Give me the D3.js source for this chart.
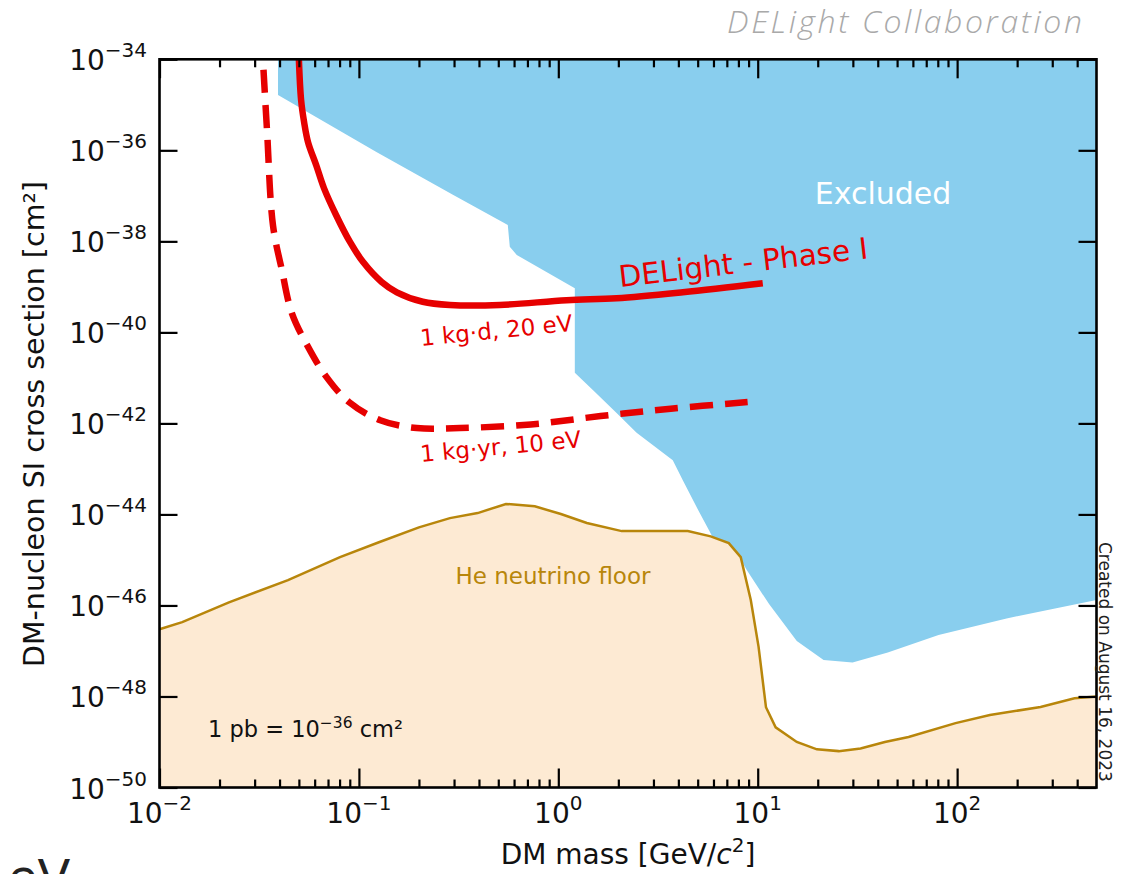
<!DOCTYPE html>
<html>
<head>
<meta charset="utf-8">
<script src="https://cdn.jsdelivr.net/npm/d3@7"></script>
<style>
  body { margin: 0; background: #fff; }
  svg { display: block; font-family: "DejaVu Sans", sans-serif; }
</style>
</head>
<body>
<div id="chart"></div>
<script>
// values (mass in GeV/c^2, cross section in cm^2)
var excludedMass  = [0.0393, 0.0393, 0.123, 0.296, 0.527, 0.558, 0.571, 0.619, 1.21, 1.21, 1.49, 1.96, 2.47, 3.75, 4.21, 5.12, 5.94, 7.85, 8.81, 11.4, 15.7, 21.4, 29.9, 44.9, 80.7, 177, 500];
var excludedSigma = [1e-34, 1.64e-35, 9.1e-37, 1.05e-37, 2.63e-38, 2.29e-38, 7.6e-39, 5.0e-39, 9.3e-40, 1.29e-41, 5.4e-42, 1.7e-42, 6.2e-43, 1.55e-43, 5.6e-44, 1.07e-44, 3.2e-45, 1.48e-45, 6.0e-46, 1.07e-46, 1.66e-47, 6.3e-48, 5.6e-48, 9.3e-48, 2.24e-47, 5.2e-47, 1.32e-46];

var phase1Mass  = [0.0500, 0.0513, 0.0531, 0.0556, 0.0610, 0.0668, 0.0768, 0.0902, 0.105, 0.130, 0.155, 0.209, 0.286, 0.509, 1.10, 1.96, 4.21, 10.6];
var phase1Sigma = [1e-34, 1.28e-35, 4.2e-36, 1.5e-36, 4.8e-37, 1.48e-37, 3.8e-38, 9.7e-39, 3.5e-39, 1.28e-39, 7.6e-40, 4.7e-40, 4.0e-40, 4.0e-40, 5.1e-40, 5.6e-40, 7.6e-40, 1.2e-39];

var yearMass  = [0.0330, 0.0346, 0.0371, 0.0411, 0.0461, 0.0556, 0.0687, 0.0891, 0.128, 0.195, 0.321, 0.728, 1.63, 3.66, 8.9];
var yearSigma = [1e-34, 2.8e-36, 2.2e-38, 2.34e-39, 2.65e-40, 4.8e-41, 1.05e-41, 2.95e-42, 1.17e-42, 7.9e-43, 7.9e-43, 9.5e-43, 1.45e-42, 2.1e-42, 2.95e-42];

var floorMass  = [0.01, 0.0130, 0.0223, 0.0441, 0.0804, 0.126, 0.200, 0.286, 0.394, 0.546, 0.762, 1.03, 1.39, 2.08, 4.46, 5.81, 7.16, 8.22, 9.23, 10.1, 11.0, 12.3, 15.7, 19.8, 25.5, 32.8, 43.4, 57.1, 98.2, 146, 262, 388, 500];
var floorSigma = [3.0e-47, 4.3e-47, 1.17e-46, 3.6e-46, 1.15e-45, 2.45e-45, 5.2e-45, 8.3e-45, 1.07e-44, 1.7e-44, 1.51e-44, 1.02e-44, 6.5e-45, 4.3e-45, 4.3e-45, 3.3e-45, 2.34e-45, 1.15e-45, 1.32e-46, 1.23e-47, 5.8e-49, 2.1e-49, 1.0e-49, 6.9e-50, 6.3e-50, 7.2e-50, 1.0e-49, 1.29e-49, 2.6e-49, 3.9e-49, 5.9e-49, 9.1e-49, 1.0e-48];

var xMajor = [1e-2, 1e-1, 1e0, 1e1, 1e2];
var xExp   = ["\u22122", "\u22121", "0", "1", "2"];
var yMajor = [1e-34, 1e-36, 1e-38, 1e-40, 1e-42, 1e-44, 1e-46, 1e-48, 1e-50];
var yExp   = ["\u221234", "\u221236", "\u221238", "\u221240", "\u221242", "\u221244", "\u221246", "\u221248", "\u221250"];

var W = 1132, H = 874;
var L = 159.5, R = 1096.5, T = 59.3, B = 787.5;

var svg = d3.select("#chart").append("svg").attr("width", W).attr("height", H);

var x = d3.scaleLog().domain([0.01, 500]).range([L, R]);
var y = d3.scaleLog().domain([1e-50, 1e-34]).range([B, T]);

var xMinor = [];
for (var e = -2; e <= 2; e++) {
  for (var k = 2; k <= 9; k++) {
    var v = k * Math.pow(10, e);
    if (v < 500) xMinor.push(v);
  }
}

svg.append("clipPath").attr("id", "plot").append("rect")
  .attr("x", L).attr("y", T).attr("width", R - L).attr("height", B - T);

var g = svg.append("g").attr("clip-path", "url(#plot)");

function pts(ms, ss) { return ms.map(function(m, i) { return [m, ss[i]]; }); }
var line = d3.line().x(function(d) { return x(d[0]); }).y(function(d) { return y(d[1]); });

// excluded region
var excl = pts(excludedMass, excludedSigma);
excl.push([500, 1e-34]);
g.append("path").attr("d", line(excl) + "Z").attr("fill", "#89ceee");

// neutrino floor
var floorPts = pts(floorMass, floorSigma);
g.append("path")
  .attr("d", d3.area().x(function(d) { return x(d[0]); }).y0(B).y1(function(d) { return y(d[1]); })(floorPts))
  .attr("fill", "#fdead3");
g.append("path").attr("d", line(floorPts))
  .attr("fill", "none").attr("stroke", "#b8860b").attr("stroke-width", 2.5);

// DELight projections
var smooth = d3.line().x(function(d) { return x(d[0]); }).y(function(d) { return y(d[1]); })
  .curve(d3.curveCatmullRom.alpha(0.5));
g.append("path").attr("d", smooth(pts(phase1Mass, phase1Sigma)))
  .attr("fill", "none").attr("stroke", "#e60000").attr("stroke-width", 6.5);
var dashed = g.append("path").attr("d", smooth(pts(yearMass, yearSigma)))
  .attr("fill", "none").attr("stroke", "#e60000").attr("stroke-width", 6.5)
  .attr("stroke-dasharray", "23,12");
var len = dashed.node().getTotalLength();
dashed.attr("stroke-dashoffset", ((23 - len) % 35 + 35) % 35);

// ticks (inward, all four sides)
svg.append("g").attr("transform", "translate(0," + B + ")")
  .call(d3.axisBottom(x).tickValues(xMajor).tickSize(-19).tickSizeOuter(0).tickFormat(""));
svg.append("g").attr("transform", "translate(0," + B + ")")
  .call(d3.axisBottom(x).tickValues(xMinor).tickSize(-8).tickSizeOuter(0).tickFormat(""));
svg.append("g").attr("transform", "translate(0," + T + ")")
  .call(d3.axisTop(x).tickValues(xMajor).tickSize(-19).tickSizeOuter(0).tickFormat(""));
svg.append("g").attr("transform", "translate(0," + T + ")")
  .call(d3.axisTop(x).tickValues(xMinor).tickSize(-8).tickSizeOuter(0).tickFormat(""));
svg.append("g").attr("transform", "translate(" + L + ",0)")
  .call(d3.axisLeft(y).tickValues(yMajor).tickSize(-18).tickSizeOuter(0).tickFormat(""));
svg.append("g").attr("transform", "translate(" + R + ",0)")
  .call(d3.axisRight(y).tickValues(yMajor).tickSize(-18).tickSizeOuter(0).tickFormat(""));
svg.selectAll(".tick line").attr("stroke", "#000").attr("stroke-width", 2.2);
svg.selectAll(".domain").remove();

svg.append("rect").attr("x", L).attr("y", T).attr("width", R - L).attr("height", B - T)
  .attr("fill", "none").attr("stroke", "#000").attr("stroke-width", 2.6);

// tick labels
xMajor.forEach(function(v, i) {
  var t = svg.append("text").attr("x", x(v)).attr("y", 823).attr("text-anchor", "middle")
    .attr("font-size", 28).attr("fill", "#111");
  t.append("tspan").text("10");
  t.append("tspan").attr("dy", -13).attr("font-size", 20).text(xExp[i]);
});
yMajor.forEach(function(v, i) {
  var t = svg.append("text").attr("x", 147).attr("y", y(v) + 11).attr("text-anchor", "end")
    .attr("font-size", 28).attr("fill", "#111");
  t.append("tspan").text("10");
  t.append("tspan").attr("dy", -13).attr("font-size", 20).text(yExp[i]);
});

// axis titles
var xt = svg.append("text").attr("x", 628).attr("y", 864).attr("text-anchor", "middle")
  .attr("font-size", 28).attr("fill", "#111");
xt.append("tspan").text("DM mass [GeV/");
xt.append("tspan").attr("font-style", "italic").text("c");
xt.append("tspan").attr("dy", -12).attr("font-size", 20).text("2");
xt.append("tspan").attr("dy", 12).text("]");

svg.append("text").attr("transform", "translate(44,424) rotate(-90)").attr("text-anchor", "middle")
  .attr("font-size", 28.5).attr("fill", "#111").text("DM-nucleon SI cross section [cm\u00b2]");

// annotations
svg.append("text").attr("x", 883).attr("y", 204).attr("text-anchor", "middle")
  .attr("font-size", 30).attr("fill", "#fff").text("Excluded");

svg.append("text").attr("transform", "translate(620,287) rotate(-6.6)")
  .attr("font-size", 29.5).attr("fill", "#e60000").text("DELight - Phase I");
svg.append("text").attr("transform", "translate(421,346) rotate(-5.7)")
  .attr("font-size", 23).attr("fill", "#e60000").text("1 kg\u00b7d, 20 eV");
svg.append("text").attr("transform", "translate(421,462) rotate(-5.3)")
  .attr("font-size", 23).attr("fill", "#e60000").text("1 kg\u00b7yr, 10 eV");

svg.append("text").attr("x", 553).attr("y", 584).attr("text-anchor", "middle")
  .attr("font-size", 23).attr("fill", "#b8860b").text("He neutrino floor");

var pb = svg.append("text").attr("x", 208).attr("y", 737).attr("font-size", 22.5).attr("fill", "#111");
pb.append("tspan").text("1 pb = 10");
pb.append("tspan").attr("dy", -9).attr("font-size", 15.5).text("\u221236");
pb.append("tspan").attr("dy", 9).text(" cm\u00b2");

svg.append("text").attr("transform", "translate(1099,542) rotate(90)")
  .attr("font-size", 17).attr("fill", "#222").text("Created on August 16, 2023");

svg.append("text").attr("x", 1082).attr("y", 33).attr("text-anchor", "end")
  .attr("font-family", "'Open Sans', sans-serif").attr("font-style", "italic").attr("font-weight", 300)
  .attr("font-size", 32).attr("fill", "#a9a9a9")
  .attr("textLength", 355).attr("lengthAdjust", "spacing").text("DELight Collaboration");

svg.append("text").attr("x", 8).attr("y", 894).attr("font-size", 48).attr("fill", "#222").text("eV");
</script>
</body>
</html>
